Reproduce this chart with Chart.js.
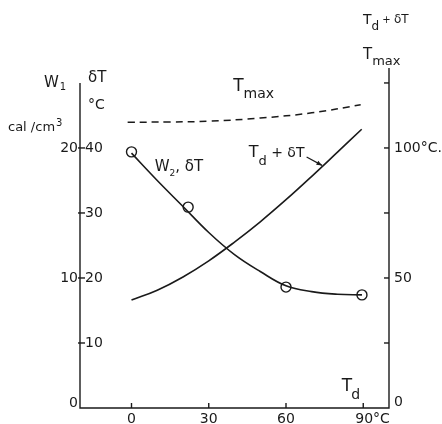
<!DOCTYPE html>
<html>
<head>
<meta charset="utf-8">
<script src="https://cdn.jsdelivr.net/npm/chart.js@4.4.1/dist/chart.umd.min.js"></script>
<style>
  body { margin: 0; background: #fff; }
  #wrap { width: 442px; height: 424px; }
</style>
</head>
<body>
<div id="wrap"><canvas id="grafico" width="442" height="424"></canvas></div>
<script>
// valores
const tdCurva = [0, 10, 20, 30, 40, 50, 60, 70, 80, 89.5];
const deltaT = [39.2, 35, 31, 27, 23.6, 21, 18.8, 17.9, 17.5, 17.4];

const tdPontos = [0, 22, 60, 89.5];
const deltaTPontos = [39.4, 30.9, 18.6, 17.4];

const tdSoma = [0, 10, 20, 30, 40, 50, 60, 70, 80, 89.4];
const somaTdDt = [41.5, 45.3, 50.4, 56.6, 63.8, 71.6, 80.1, 89.1, 98.4, 107.2];

const tdMax = [-1.5, 15, 30, 50, 70, 89];
const tMax = [109.9, 110, 110.3, 111.5, 113.5, 116.6];

const xTicks = [0, 30, 60, 90];
const dtTicks = [10, 20, 30, 40];
const wTicks = [0, 10, 20];
const dirTicks = [25, 50, 75, 100, 125];
const dirLabels = { 0: '0', 50: '50', 100: '100°C.' };

const par = (xs, ys) => xs.map((x, i) => ({ x: x, y: ys[i] }));

const FONTE = '"DejaVu Sans", sans-serif';
const COR = '#1a1a1a';

function texto(ctx, s, x, y, tam, align) {
    ctx.font = tam + 'px ' + FONTE;
    ctx.textAlign = align || 'left';
    ctx.textBaseline = 'middle';
    ctx.fillText(s, x, y);
    return ctx.measureText(s).width;
}

const eixos = {
    id: 'eixos',
    afterDraw(chart) {
        const ctx = chart.ctx;
        const sx = chart.scales.x, sl = chart.scales.yL, sw = chart.scales.yW, sr = chart.scales.yR;
        ctx.save();
        ctx.strokeStyle = COR;
        ctx.fillStyle = COR;
        ctx.lineWidth = 1.4;

        const x0 = sx.getPixelForValue(-20), x1 = sx.getPixelForValue(100);
        const yb = sl.getPixelForValue(0);

        ctx.beginPath();
        ctx.moveTo(x0, sl.getPixelForValue(50));
        ctx.lineTo(x0, yb);
        ctx.lineTo(x1, yb);
        ctx.lineTo(x1, sr.top);
        ctx.stroke();

        // eixo x
        xTicks.forEach(v => {
            let px = sx.getPixelForValue(v);
            ctx.beginPath(); ctx.moveTo(px, yb); ctx.lineTo(px, yb - 5); ctx.stroke();
            if (v === 90) {
                texto(ctx, '90°C', px - 8, yb + 11, 14, 'left');
            } else {
                texto(ctx, String(v), px, yb + 11, 14, 'center');
            }
        });

        // eixo esquerdo: dT dentro, W1 fora
        dtTicks.forEach(v => {
            let py = sl.getPixelForValue(v);
            ctx.beginPath(); ctx.moveTo(x0 - 2, py); ctx.lineTo(x0 + 5, py); ctx.stroke();
            texto(ctx, String(v), x0 + 5, py, 14, 'left');
        });
        wTicks.forEach(v => {
            let py = sw.getPixelForValue(v);
            texto(ctx, String(v), x0 - 2, v === 0 ? py - 5 : py, 14, 'right');
        });

        // eixo direito
        dirTicks.forEach(v => {
            let py = sr.getPixelForValue(v);
            ctx.beginPath(); ctx.moveTo(x1, py); ctx.lineTo(x1 - 5, py); ctx.stroke();
        });
        Object.keys(dirLabels).forEach(k => {
            let py = sr.getPixelForValue(Number(k));
            texto(ctx, dirLabels[k], x1 + 5, Number(k) === 0 ? py - 6 : py, 14, 'left');
        });

        // títulos dos eixos
        let w = texto(ctx, 'W', 44, 83, 15);
        texto(ctx, '1', 44 + w + 1, 87, 10);
        texto(ctx, 'δT', 88, 78, 15);
        texto(ctx, '°C', 88, 105, 14);
        w = texto(ctx, 'cal /cm', 8, 128, 13);
        texto(ctx, '3', 8 + w + 1, 123, 10);

        w = texto(ctx, 'T', 363, 20, 14);
        w += texto(ctx, 'd', 363 + w, 27, 12);
        w += texto(ctx, ' + ', 363 + w, 20, 10);
        texto(ctx, 'δT', 363 + w, 20, 12);
        w = texto(ctx, 'T', 363, 55, 15);
        texto(ctx, 'max', 363 + w, 62, 13);

        // rótulos dentro do gráfico
        w = texto(ctx, 'T', sx.getPixelForValue(39.5), sr.getPixelForValue(123.5), 17);
        texto(ctx, 'max', sx.getPixelForValue(39.5) + w, sr.getPixelForValue(120.5), 14);

        let lx = sx.getPixelForValue(9);
        let ly = sl.getPixelForValue(37);
        w = texto(ctx, 'W', lx, ly, 15);
        w += texto(ctx, '2', lx + w, ly + 6, 9);
        texto(ctx, ', δT', lx + w, ly, 15);

        lx = sx.getPixelForValue(45.5);
        ly = sr.getPixelForValue(98);
        w = texto(ctx, 'T', lx, ly, 16);
        w += texto(ctx, 'd', lx + w, ly + 8, 13);
        texto(ctx, ' + δT', lx + w, ly, 14);

        // seta
        let ax = sx.getPixelForValue(68), ay = sr.getPixelForValue(96.5);
        let bx = sx.getPixelForValue(74), by = sr.getPixelForValue(93.3);
        ctx.lineWidth = 1.2;
        ctx.beginPath(); ctx.moveTo(ax, ay); ctx.lineTo(bx, by); ctx.stroke();
        let ang = Math.atan2(by - ay, bx - ax);
        ctx.beginPath();
        ctx.moveTo(bx, by);
        ctx.lineTo(bx - 6 * Math.cos(ang - 0.4), by - 6 * Math.sin(ang - 0.4));
        ctx.lineTo(bx - 6 * Math.cos(ang + 0.4), by - 6 * Math.sin(ang + 0.4));
        ctx.closePath();
        ctx.fill();

        // Td no eixo x
        lx = sx.getPixelForValue(84);
        ly = sl.getPixelForValue(3.3);
        w = texto(ctx, 'T', lx - 6, ly, 17);
        texto(ctx, 'd', lx - 6 + w - 1, ly + 9, 14);

        ctx.restore();
    }
};

new Chart(document.getElementById('grafico'), {
    type: 'line',
    data: {
        datasets: [
            {
                data: par(tdCurva, deltaT),
                yAxisID: 'yL',
                borderColor: COR,
                borderWidth: 1.6,
                pointRadius: 0,
                tension: 0.4,
                fill: false
            },
            {
                type: 'scatter',
                data: par(tdPontos, deltaTPontos),
                yAxisID: 'yL',
                pointStyle: 'circle',
                pointRadius: 5,
                pointBackgroundColor: '#fff',
                pointBorderColor: COR,
                pointBorderWidth: 1.4,
                showLine: false
            },
            {
                data: par(tdSoma, somaTdDt),
                yAxisID: 'yR',
                borderColor: COR,
                borderWidth: 1.6,
                pointRadius: 0,
                tension: 0.4,
                fill: false
            },
            {
                data: par(tdMax, tMax),
                yAxisID: 'yR',
                borderColor: COR,
                borderWidth: 1.5,
                borderDash: [7, 5],
                pointRadius: 0,
                tension: 0.4,
                fill: false
            }
        ]
    },
    options: {
        responsive: false,
        animation: false,
        devicePixelRatio: 1,
        layout: { padding: { left: 80, right: 53, top: 68, bottom: 16 } },
        plugins: { legend: { display: false }, tooltip: { enabled: false } },
        scales: {
            x: { type: 'linear', min: -20, max: 100, display: false },
            yL: { type: 'linear', min: 0, max: 52.3, display: false },
            yW: { type: 'linear', min: 0, max: 26.15, display: false },
            yR: { type: 'linear', min: 0, max: 130.75, display: false }
        }
    },
    plugins: [eixos]
});
</script>
</body>
</html>
